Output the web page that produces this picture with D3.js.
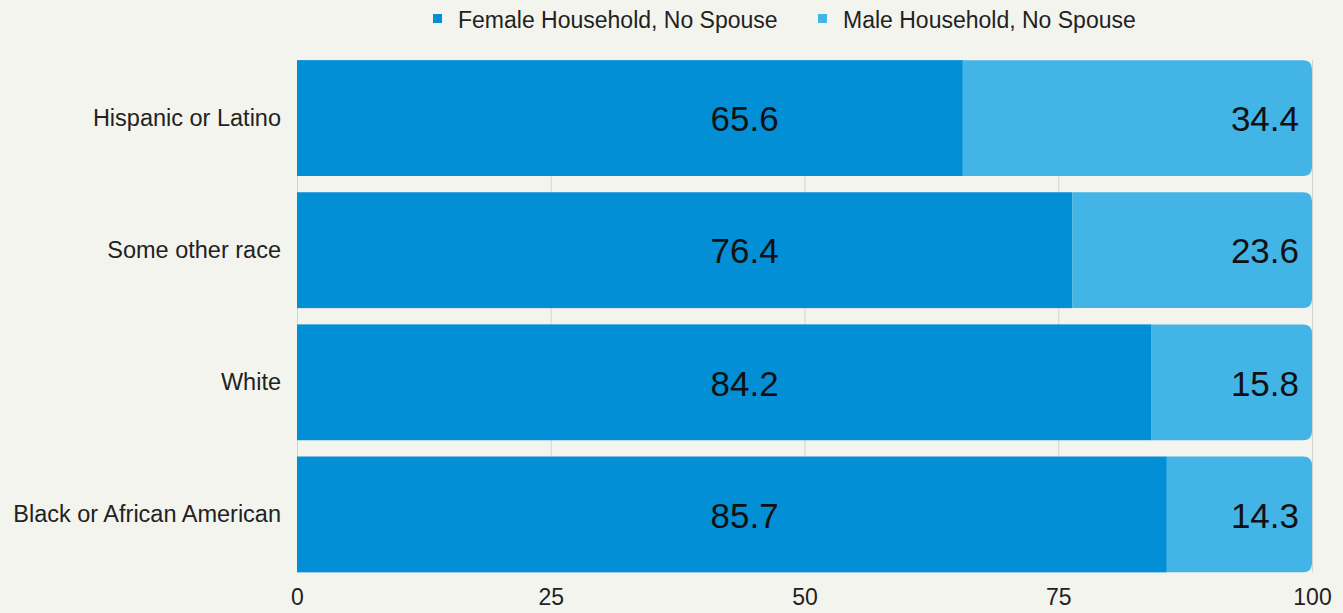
<!DOCTYPE html>
<html>
<head>
<meta charset="utf-8">
<script src="https://cdn.jsdelivr.net/npm/d3@7"></script>
<style>
  html, body { margin: 0; padding: 0; background: #f4f4ef; }
  svg { display: block; font-family: "Liberation Sans", Arial, sans-serif; }
</style>
</head>
<body>
<svg id="chart" width="1343" height="613"></svg>
<script>
// Household composition by race/ethnicity (percent of single-parent households)
const categories = ["Hispanic or Latino", "Some other race", "White", "Black or African American"];
const femaleValues = [65.6, 76.4, 84.2, 85.7];
const maleValues = [34.4, 23.6, 15.8, 14.3];
const seriesNames = ["Female Household, No Spouse", "Male Household, No Spouse"];
const tickValues = [0, 25, 50, 75, 100];

const W = 1343, H = 613;
const colors = ["#038fd6", "#42b4e6"];

const svg = d3.select("#chart");
svg.append("rect").attr("width", W).attr("height", H).attr("fill", "#f4f4ef");

const x = d3.scaleLinear().domain([0, 100]).range([297, 1312]);
const y = d3.scaleBand()
  .domain(categories)
  .range([52, 580.5])
  .paddingInner(0.123)
  .paddingOuter(0.0615);

const barTop = y(categories[0]);
const barBottom = y(categories[categories.length - 1]) + y.bandwidth();

// vertical gridlines
svg.append("g")
  .selectAll("line")
  .data(tickValues)
  .join("line")
  .attr("x1", d => x(d) + 0.5)
  .attr("x2", d => x(d) + 0.5)
  .attr("y1", barTop)
  .attr("y2", barBottom)
  .attr("stroke", "#d3d3cd")
  .attr("stroke-width", 1);

const rows = categories.map((c, i) => ({ cat: c, f: femaleValues[i], m: maleValues[i] }));

// female segments
svg.append("g")
  .selectAll("rect")
  .data(rows)
  .join("rect")
  .attr("x", x(0))
  .attr("y", d => y(d.cat))
  .attr("width", d => x(d.f) - x(0))
  .attr("height", y.bandwidth())
  .attr("fill", colors[0]);

// male segments with rounded right end
const r = 9;
function rightRounded(x0, y0, w, h) {
  return `M${x0},${y0}H${x0 + w - r}Q${x0 + w},${y0} ${x0 + w},${y0 + r}` +
         `V${y0 + h - r}Q${x0 + w},${y0 + h} ${x0 + w - r},${y0 + h}H${x0}Z`;
}
svg.append("g")
  .selectAll("path")
  .data(rows)
  .join("path")
  .attr("d", d => rightRounded(x(d.f), y(d.cat), x(d.f + d.m) - x(d.f), y.bandwidth()))
  .attr("fill", colors[1]);

// value labels
const fLabelX = x(44.1);
svg.append("g")
  .selectAll("text")
  .data(rows)
  .join("text")
  .attr("x", fLabelX)
  .attr("y", d => y(d.cat) + y.bandwidth() / 2)
  .attr("dy", "0.38em")
  .attr("text-anchor", "middle")
  .attr("font-size", 35)
  .attr("fill", "#111")
  .text(d => d.f.toFixed(1));

svg.append("g")
  .selectAll("text")
  .data(rows)
  .join("text")
  .attr("x", d => x(d.f + d.m) - 13)
  .attr("y", d => y(d.cat) + y.bandwidth() / 2)
  .attr("dy", "0.38em")
  .attr("text-anchor", "end")
  .attr("font-size", 35)
  .attr("fill", "#111")
  .text(d => d.m.toFixed(1));

// category axis
const yAxis = d3.axisLeft(y).tickSize(0).tickPadding(16);
const gy = svg.append("g").attr("transform", `translate(${x(0)},0)`).call(yAxis);
gy.select(".domain").remove();
gy.selectAll("text")
  .attr("font-family", "Liberation Sans, Arial, sans-serif")
  .attr("font-size", 23.5)
  .attr("fill", "#222");

// value axis
const xAxis = d3.axisBottom(x).tickValues(tickValues).tickSize(0).tickPadding(0);
const gx = svg.append("g").attr("transform", `translate(0,${589})`).call(xAxis);
gx.select(".domain").remove();
gx.selectAll("text")
  .attr("font-family", "Liberation Sans, Arial, sans-serif")
  .attr("font-size", 23)
  .attr("fill", "#222");

// legend
const legend = svg.append("g");
const legendX = [433, 818];
seriesNames.forEach((name, i) => {
  const g = legend.append("g").attr("transform", `translate(${legendX[i]},0)`);
  g.append("rect").attr("x", 0).attr("y", 14).attr("width", 9).attr("height", 9).attr("fill", colors[i]);
  g.append("text")
    .attr("x", 25)
    .attr("y", 20)
    .attr("dy", "0.35em")
    .attr("font-size", 23)
    .attr("fill", "#222")
    .text(name);
});
</script>
</body>
</html>
